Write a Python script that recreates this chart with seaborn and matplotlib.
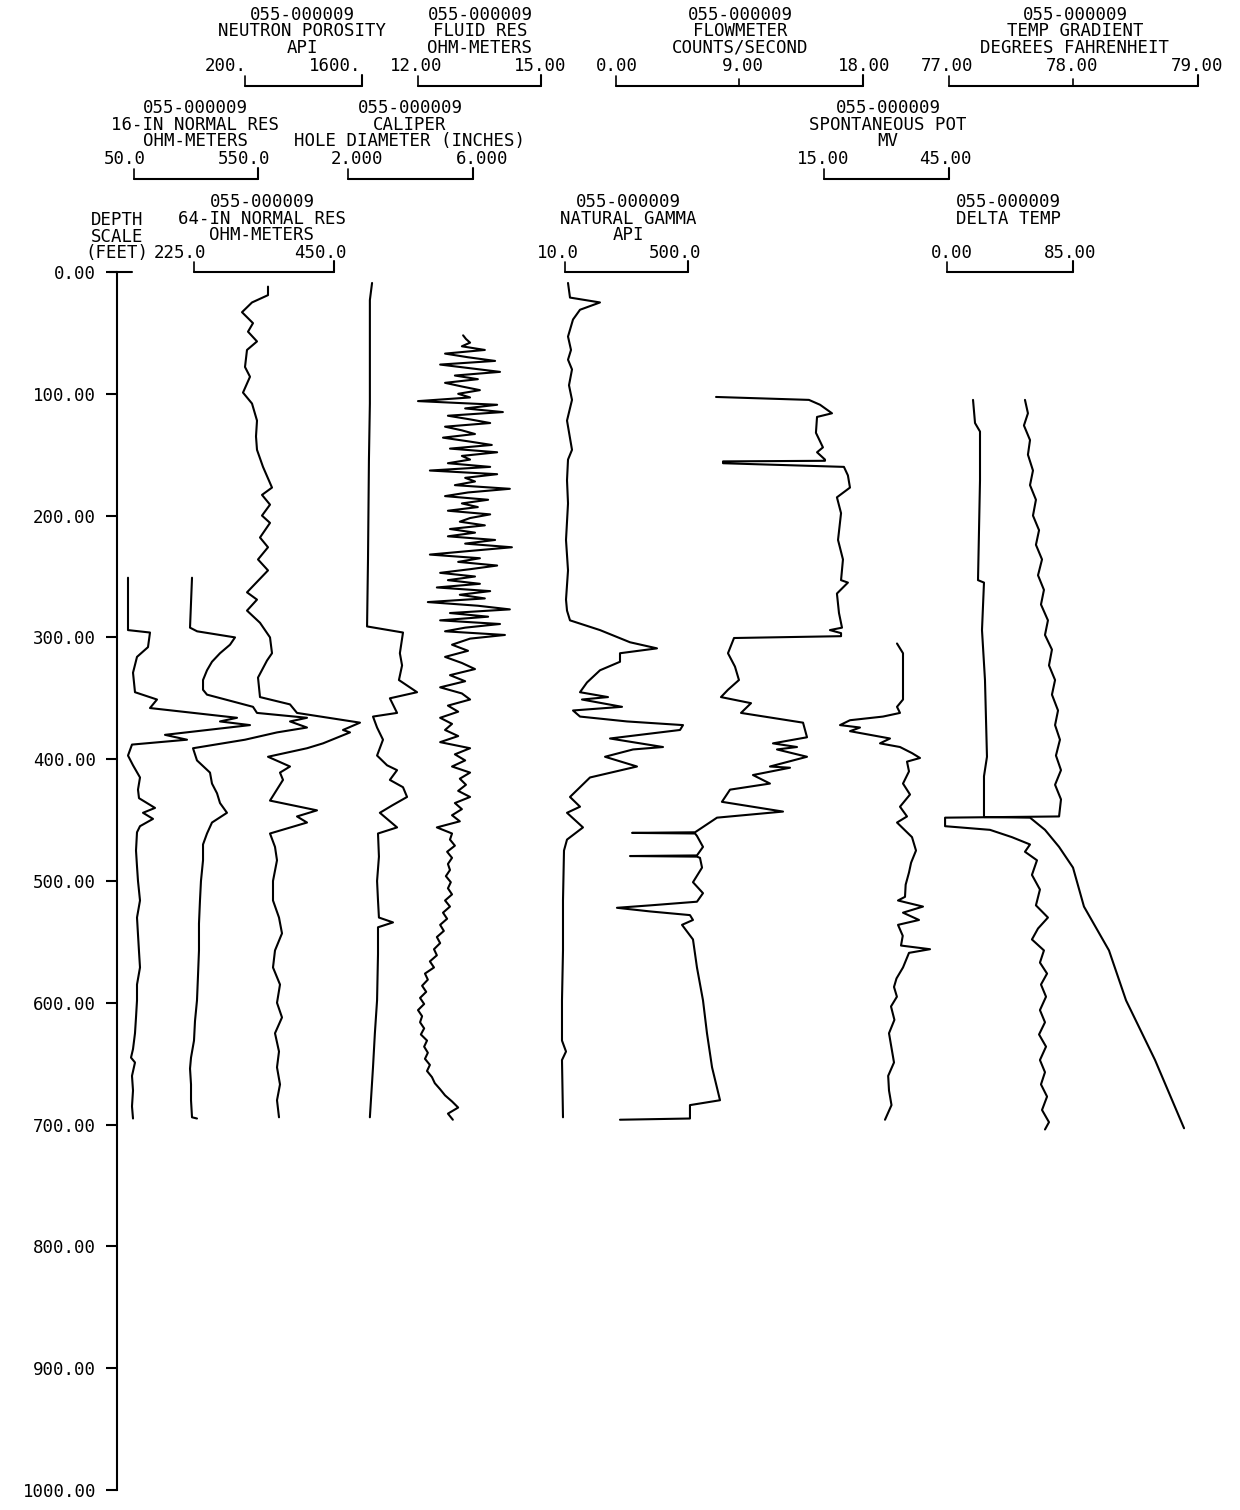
import matplotlib
matplotlib.use("Agg")
import matplotlib.pyplot as plt
import seaborn as sns

# ---- curve data: depth in feet, value in the curve's own header unit ----
res16_depth = [251, 294, 296, 308, 316, 329, 345, 351, 358, 366, 369, 372, 380, 384, 388, 397,
               405, 415, 425, 432, 440, 444, 449, 455, 460, 475, 488, 500, 516, 530, 544, 558,
               571, 585, 598, 612, 625, 638, 645, 649, 660, 672, 685, 695]
res16_ohm = [25.8, 25.8, 114.5, 106.4, 62.1, 46.0, 54.0, 142.7, 114.5, 465.3, 396.8, 517.7, 175.0,
             263.7, 41.9, 25.8, 46.0, 74.2, 66.1, 70.2, 134.7, 86.3, 126.6, 74.2, 62.1, 58.1, 62.1,
             66.1, 74.2, 62.1, 66.1, 70.2, 74.2, 62.1, 62.1, 58.1, 54.0, 46.0, 37.9, 54.0, 41.9,
             46.0, 41.9, 46.0]

res64_depth = [251, 292, 295, 300, 306, 313, 320, 327, 335, 343, 347, 352, 357, 362, 366, 369,
               374, 378, 384, 391, 401, 411, 420, 428, 436, 444, 452, 461, 470, 483, 500, 516,
               535, 557, 578, 598, 615, 631, 645, 654, 667, 680, 694, 695]
res64_ohm = [221.8, 218.6, 230.0, 290.9, 282.9, 266.8, 253.9, 245.9, 239.5, 239.5, 245.9, 282.9,
             319.8, 326.2, 406.6, 379.3, 406.6, 358.4, 307.0, 223.4, 229.8, 250.7, 253.9, 262.0,
             266.8, 278.0, 253.9, 245.9, 239.5, 239.5, 236.2, 234.6, 233.0, 233.0, 231.4, 229.8,
             226.6, 225.0, 220.2, 218.6, 220.2, 220.2, 221.8, 229.8]

neutron_depth = [12, 19, 25, 33, 42, 49, 57, 64, 78, 86, 99, 108, 122, 135, 146, 160, 177, 183,
                 191, 200, 206, 218, 226, 236, 245, 263, 269, 278, 288, 300, 313, 319, 333, 349,
                 355, 362, 370, 376, 378, 387, 391, 398, 406, 411, 417, 434, 442, 447, 452, 461,
                 472, 483, 500, 516, 530, 543, 557, 571, 585, 600, 612, 625, 640, 653, 667, 680, 694]
neutron_api = [475.2, 475.2, 283.8, 164.1, 295.7, 235.9, 343.6, 223.9, 200.0, 259.8, 176.1, 283.8,
               343.6, 331.6, 343.6, 415.4, 523.1, 403.4, 499.2, 403.4, 499.2, 379.5, 475.2, 355.6,
               475.2, 223.9, 343.6, 223.9, 379.5, 499.2, 523.1, 463.3, 355.6, 379.5, 738.5, 822.2,
               1576.1, 1372.7, 1456.4, 1133.3, 941.9, 475.2, 738.5, 618.8, 654.7, 499.2, 1061.6,
               822.2, 941.9, 499.2, 559.0, 582.9, 535.0, 535.0, 606.8, 642.7, 559.0, 535.0, 618.8,
               582.9, 642.7, 559.0, 606.8, 582.9, 618.8, 582.9, 606.8]

caliper_depth = [9, 23, 108, 154, 236, 291, 296, 313, 323, 335, 345, 350, 362, 365, 374, 384, 397,
                 405, 409, 417, 423, 431, 438, 444, 456, 461, 480, 500, 516, 530, 534, 538, 560,
                 598, 625, 653, 694]
caliper_in = [2.77, 2.70, 2.70, 2.67, 2.64, 2.61, 3.76, 3.66, 3.73, 3.63, 4.21, 3.34, 3.57, 2.80,
              2.93, 3.12, 2.93, 3.25, 3.57, 3.34, 3.76, 3.89, 3.41, 3.02, 3.57, 2.96, 2.99, 2.93,
              2.96, 2.99, 3.44, 2.96, 2.96, 2.93, 2.86, 2.80, 2.70]

# fluid resistivity: noisy upper run sampled every 3 ft from 52 ft, calmer lower run every 5 ft from 301 ft
fluid_upper_ohm = [13.10, 13.17, 13.27, 13.07, 13.63, 12.66, 13.22, 13.88, 12.54, 13.27, 14.00,
                   12.90, 13.46, 12.66, 13.07, 13.51, 12.98, 13.27, 12.00, 13.93, 13.15, 14.07,
                   12.73, 13.27, 13.76, 12.66, 13.07, 13.39, 12.61, 13.22, 13.80, 12.78, 13.93,
                   13.07, 13.27, 12.73, 13.76, 12.29, 13.93, 13.15, 13.39, 12.90, 14.24, 13.22,
                   12.66, 13.71, 13.07, 13.46, 12.73, 13.76, 13.27, 13.02, 13.63, 12.78, 13.39,
                   12.73, 13.88, 13.15, 14.29, 13.27, 12.29, 13.51, 12.98, 13.93, 13.27, 12.54,
                   13.39, 12.73, 13.51, 12.46, 13.76, 13.02, 13.63, 12.24, 13.46, 14.24, 12.78,
                   13.71, 12.54, 14.00, 13.15, 12.66, 14.12]
fluid_lower_ohm = [13.27, 12.83, 13.22, 12.66, 13.07, 13.39, 12.78, 13.15, 12.54, 13.07, 13.27,
                   12.73, 12.98, 12.54, 12.83, 12.66, 12.98, 12.54, 13.27, 12.90, 13.15, 12.83,
                   13.27, 13.02, 13.17, 12.98, 13.27, 12.90, 13.07, 12.83, 13.02, 12.46, 12.83,
                   12.78, 12.90, 12.71, 12.83, 12.73, 12.78, 12.68, 12.80, 12.73, 12.83, 12.66,
                   12.78, 12.61, 12.71, 12.54, 12.63, 12.46, 12.54, 12.39, 12.46, 12.29, 12.39,
                   12.17, 12.24, 12.10, 12.20, 12.05, 12.15, 12.00, 12.10, 12.05, 12.15, 12.07,
                   12.22, 12.15, 12.24, 12.17, 12.29, 12.22, 12.34, 12.41, 12.54, 12.66, 12.83,
                   12.98, 12.73, 12.85]
fluid_upper_depth = [52 + 3 * i for i in range(len(fluid_upper_ohm))]
fluid_lower_depth = [301 + 5 * i for i in range(len(fluid_lower_ohm))]

gamma_depth = [9, 21, 25, 31, 39, 53, 64, 72, 80, 93, 105, 122, 146, 154, 171, 190, 220, 245,
               269, 278, 286, 294, 304, 309, 313, 320, 327, 337, 345, 349, 351, 357, 360, 365,
               369, 372, 376, 383, 390, 392, 398, 406, 415, 431, 439, 444, 456, 466, 475, 516,
               557, 598, 631, 640, 647, 694]
gamma_api = [22.0, 29.9, 149.4, 69.8, 41.9, 22.0, 33.9, 22.0, 37.9, 25.9, 37.9, 18.0, 37.9, 22.0,
             18.0, 22.0, 14.0, 22.0, 14.0, 18.0, 29.9, 149.4, 269.0, 376.5, 229.1, 229.1, 149.4,
             97.6, 69.8, 181.3, 77.7, 237.1, 41.9, 69.8, 257.0, 480.1, 468.2, 189.3, 400.4, 280.9,
             169.4, 296.8, 109.6, 29.9, 69.8, 18.0, 81.7, 18.0, 6.0, 2.0, 2.0, -2.0, -2.0, 14.0,
             -2.0, 2.0]

flow_depth = [102.6, 105, 109, 116, 119, 132, 144, 148, 154, 155, 155.5, 157, 160, 167, 177, 185,
              198, 220, 236, 253, 255, 264, 280, 292, 294, 296.5, 299, 300.5, 313, 324, 335, 343,
              349, 354, 362, 370, 382, 387, 390, 392, 398, 406, 407, 413, 420, 425, 435, 443, 448,
              460, 460.5, 461, 463, 472, 479, 479.5, 480, 481, 489, 501, 510, 517, 520, 522, 525,
              528, 532, 536, 548, 571, 598, 625, 653, 680, 684, 695, 696]
flow_cps = [7.29, 14.06, 14.87, 15.74, 14.65, 14.57, 15.08, 14.65, 15.23, 15.23, 7.80, 7.80, 16.61,
            16.90, 17.05, 16.10, 16.40, 16.18, 16.54, 16.40, 16.90, 16.10, 16.25, 16.47, 15.59,
            16.40, 16.40, 8.60, 8.16, 8.67, 8.96, 8.16, 7.65, 9.84, 9.11, 13.63, 13.92, 11.44,
            13.19, 11.73, 13.92, 11.22, 12.68, 9.98, 11.22, 8.31, 7.72, 12.17, 7.36, 5.76, 1.17,
            5.76, 5.90, 6.34, 5.90, 1.02, 5.90, 6.12, 6.27, 5.61, 6.34, 5.90, 2.50, 0.07, 2.50,
            5.39, 5.61, 4.81, 5.61, 5.90, 6.34, 6.63, 7.00, 7.58, 5.39, 5.39, 0.29]

sp_depth = [305, 313, 351, 357, 362, 365, 368, 372, 374, 377, 383, 387, 390, 395, 399, 402, 410,
            420, 429, 439, 447, 452, 464, 475, 485, 493, 503, 513, 516, 521, 526, 532, 536, 545,
            553, 556, 559, 571, 580, 587, 595, 603, 614, 625, 637, 649, 660, 672, 684, 696]
sp_mv = [32.52, 33.96, 33.96, 32.52, 33.24, 29.16, 21.24, 18.84, 23.64, 21.24, 30.84, 28.44,
         33.24, 36.12, 38.04, 34.92, 35.40, 33.96, 35.64, 33.24, 34.92, 32.52, 36.12, 37.08, 35.90,
         35.40, 34.60, 34.44, 32.76, 38.76, 33.96, 37.80, 32.76, 33.90, 33.48, 40.44, 35.40, 33.96,
         32.40, 31.80, 32.50, 31.08, 31.90, 30.60, 31.20, 31.80, 30.40, 30.60, 31.20, 29.64]

temp_depth = [105, 124, 131, 171, 212, 253, 255, 294, 335, 398, 414, 447.5, 448, 458, 472, 489,
              521, 557, 598, 647, 703]
temp_degf = [77.193, 77.209, 77.249, 77.249, 77.241, 77.233, 77.281, 77.265, 77.289, 77.305,
             77.281, 77.281, 77.651, 77.771, 77.884, 77.996, 78.084, 78.285, 78.422, 78.655, 78.888]

dtemp_depth = [105, 116, 126, 138, 150, 163, 175, 187, 200, 212, 224, 236, 249, 261, 273, 286,
               298, 310, 323, 335, 347, 360, 372, 384, 397, 409, 421, 433, 447, 448, 455, 458,
               464, 470, 476, 483, 495, 507, 520, 530, 539, 548, 557, 567, 576, 585, 595, 606,
               616, 626, 636, 647, 657, 667, 677, 688, 698, 704]
dtemp_val = [52.6, 54.6, 51.9, 56.0, 54.6, 58.0, 56.0, 60.0, 58.0, 62.1, 60.0, 64.1, 61.4, 65.4,
             63.4, 68.1, 66.1, 70.8, 68.8, 72.9, 70.8, 74.9, 72.9, 76.2, 73.5, 76.9, 72.9, 76.9,
             75.6, -1.3, -1.3, 29.0, 43.8, 56.0, 52.6, 60.7, 57.3, 62.7, 60.0, 68.1, 61.4, 57.3,
             65.4, 62.7, 67.5, 63.4, 66.8, 62.7, 66.1, 62.1, 66.8, 62.7, 66.1, 63.4, 67.5, 64.1,
             68.8, 66.1]

depth_ticks = list(range(0, 1001, 100))

# ---- page layout (pixels) ----
W, H = 1240, 1510
AX_X, AX_TOP, AX_BOT = 117, 272, 1490
FONT = ['DejaVu Sans Mono']
FS = 12.5

# (depth, values, scale lo, scale hi, bracket px lo, bracket px hi)
tracks = [
    (res16_depth, res16_ohm, 50, 550, 134, 258),
    (res64_depth, res64_ohm, 225, 450, 194, 334),
    (neutron_depth, neutron_api, 200, 1600, 245, 362),
    (caliper_depth, caliper_in, 2, 6, 348, 473),
    (fluid_upper_depth + fluid_lower_depth, fluid_upper_ohm + fluid_lower_ohm, 12, 15, 418, 541),
    (gamma_depth, gamma_api, 10, 500, 565, 688),
    (flow_depth, flow_cps, 0, 18, 616, 863),
    (sp_depth, sp_mv, 15, 45, 824, 949),
    (temp_depth, temp_degf, 77, 79, 949, 1198),
    (dtemp_depth, dtemp_val, 0, 85, 947, 1073),
]

# header blocks: centre x, top row y, title lines, scale labels (text, x), bracket, middle tick
headers = [
    (302, 15, ["055-000009", "NEUTRON POROSITY", "API"], [("200.", 226), ("1600.", 335)], (245, 362), None),
    (480, 15, ["055-000009", "FLUID RES", "OHM-METERS"], [("12.00", 416), ("15.00", 540)], (418, 541), None),
    (740, 15, ["055-000009", "FLOWMETER", "COUNTS/SECOND"],
     [("0.00", 617), ("9.00", 743), ("18.00", 864)], (616, 863), 739),
    (1075, 15, ["055-000009", "TEMP GRADIENT", "DEGREES FAHRENHEIT"],
     [("77.00", 947), ("78.00", 1072), ("79.00", 1197)], (949, 1198), 1073),
    (195, 108, ["055-000009", "16-IN NORMAL RES", "OHM-METERS"], [("50.0", 125), ("550.0", 244)], (134, 258), None),
    (410, 108, ["055-000009", "CALIPER", "HOLE DIAMETER (INCHES)"], [("2.000", 357), ("6.000", 482)], (348, 473), None),
    (888, 108, ["055-000009", "SPONTANEOUS POT", "MV"], [("15.00", 823), ("45.00", 945)], (824, 949), None),
    (262, 202, ["055-000009", "64-IN NORMAL RES", "OHM-METERS"], [("225.0", 180), ("450.0", 320)], (194, 334), None),
    (628, 202, ["055-000009", "NATURAL GAMMA", "API"], [("10.0", 558), ("500.0", 675)], (565, 688), None),
    (1008, 202, ["055-000009", "DELTA TEMP"], [("0.00", 952), ("85.00", 1070)], (947, 1073), None),
]


def main():
    sns.set_style("white")
    plt.rcParams['font.family'] = FONT
    plt.rcParams['text.color'] = 'black'

    fig = plt.figure(figsize=(W / 100, H / 100), dpi=100)

    # depth axis
    ax = fig.add_axes([AX_X / W, 1 - AX_BOT / H, (W - AX_X) / W, (AX_BOT - AX_TOP) / H])
    ax.patch.set_alpha(0)
    for s in ['top', 'right', 'bottom']:
        ax.spines[s].set_visible(False)
    ax.spines['left'].set_color('black')
    ax.spines['left'].set_linewidth(1.5)
    ax.set_xticks([])

    # each curve on its own horizontal scale, mapped onto its header bracket
    span = W - AX_X
    for depth, vals, lo, hi, p0, p1 in tracks:
        k = (hi - lo) / (p1 - p0)
        cax = ax.twiny()
        sns.lineplot(x=vals, y=depth, ax=cax, orient='y', sort=False, estimator=None,
                     color='black', linewidth=1.5)
        cax.set_xlim(lo - (p0 - AX_X) * k, lo + (AX_X + span - p0) * k)
        cax.set_axis_off()

    ax.set_ylim(1000, 0)
    ax.set_yticks(depth_ticks)
    ax.set_yticklabels([f"{d:.2f}" for d in depth_ticks])
    ax.tick_params(axis='y', direction='out', length=8, width=1.5, pad=7,
                   labelsize=FS, colors='black', left=True)
    ax.set_ylabel('')

    # page overlay for header text and scale brackets
    ov = fig.add_axes([0, 0, 1, 1])
    ov.set_xlim(0, W)
    ov.set_ylim(H, 0)
    ov.set_axis_off()
    ov.patch.set_alpha(0)

    for cx, y0, lines, labels, (b0, b1), mid in headers:
        for i, t in enumerate(lines):
            ov.text(cx, y0 + i * 16.5, t, ha='center', va='center', fontsize=FS, color='black')
        for t, x in labels:
            ov.text(x, y0 + 51, t, ha='center', va='center', fontsize=FS, color='black')
        yb = y0 + 71 if y0 < 200 else 272
        ov.plot([b0, b1], [yb, yb], color='black', lw=1.5)
        ov.plot([b0, b0], [yb - 10, yb], color='black', lw=1.2)
        ov.plot([b1, b1], [yb - 11, yb], color='black', lw=1.5)
        if mid is not None:
            ov.plot([mid, mid], [yb - 7, yb], color='black', lw=1.2)

    for i, t in enumerate(["DEPTH", "SCALE", "(FEET)"]):
        ov.text(117, 220 + i * 16.5, t, ha='center', va='center', fontsize=FS, color='black')
    ov.plot([AX_X - 8, AX_X + 15], [AX_TOP, AX_TOP], color='black', lw=1.5)

    fig.savefig("out.png", dpi=100, facecolor='white')
    plt.close(fig)


if __name__ == "__main__":
    main()
